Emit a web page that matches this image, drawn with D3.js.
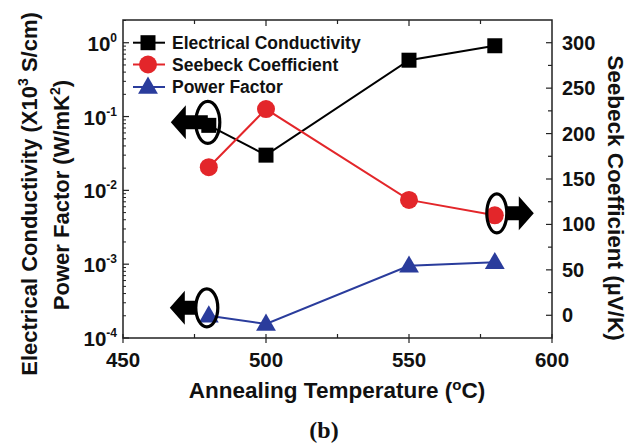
<!DOCTYPE html>
<html><head><meta charset="utf-8">
<script src="https://cdn.jsdelivr.net/npm/d3@7"></script>
<style>
html,body{margin:0;padding:0;background:#fff;}
svg text{font-family:"Liberation Sans",Arial,Helvetica,sans-serif;font-weight:bold;fill:#111;}
</style></head>
<body>
<svg id="c" width="636" height="445"></svg>
<script>
// ---- data ----
const temperatures = [480, 500, 550, 580];
const conductivity = [0.076, 0.030, 0.58, 0.91];      // x10^3 S/cm (left, log)
const seebeck = [163, 227, 127, 110];                 // µV/K (right)
const powerFactor = [2.0e-4, 1.55e-4, 9.5e-4, 1.06e-3]; // W/mK^2 (left, log)
const xTicks = [450, 500, 550, 600];
const leftTickExps = [0, -1, -2, -3, -4];
const rightTicks = [0, 50, 100, 150, 200, 250, 300];
const legendNames = ["Electrical Conductivity", "Seebeck Coefficient", "Power Factor"];

const colBlack = "#000", colRed = "#e3262a", colBlue = "#2a3c9c";

const svg = d3.select("#c");
const L = 123, R = 552, T = 20, B = 338;
const x = d3.scaleLinear().domain([450, 600]).range([L, R]);
const yL = d3.scaleLog().domain([1e-4, Math.pow(10, 0.308)]).range([B, T]);
const yR = d3.scaleLinear().domain([-25, 325]).range([B, T]);

// frame
const g = svg.append("g");
g.append("rect").attr("x", L).attr("y", T).attr("width", R - L).attr("height", B - T)
  .attr("fill", "none").attr("stroke", "#222").attr("stroke-width", 1.5);

// x ticks (bottom + top)
d3.range(450, 601, 25).forEach(v => {
  const major = v % 50 === 0;
  if (v !== 450 && v !== 600) {
    g.append("line").attr("x1", x(v)).attr("x2", x(v)).attr("y1", T).attr("y2", T + (major ? 6 : 4)).attr("stroke", "#222").attr("stroke-width", 1.2);
  }
  g.append("line").attr("x1", x(v)).attr("x2", x(v)).attr("y1", B + (major ? 5 : 0)).attr("y2", B - 4).attr("stroke", "#222").attr("stroke-width", 1.2);
});
xTicks.forEach(v => {
  svg.append("text").attr("x", x(v)).attr("y", 367).attr("text-anchor", "middle")
    .attr("font-size", 20.5).text(v);
});

// left log axis ticks
leftTickExps.forEach(e => {
  const v = Math.pow(10, e);
  g.append("line").attr("x1", L).attr("x2", L + 6).attr("y1", yL(v)).attr("y2", yL(v)).attr("stroke", "#222").attr("stroke-width", 1.2);
  for (let m = 2; m <= 9; m++) {
    const mv = m * Math.pow(10, e);
    if (mv > yL.domain()[1]) continue;
    g.append("line").attr("x1", L).attr("x2", L + 3).attr("y1", yL(mv)).attr("y2", yL(mv)).attr("stroke", "#222").attr("stroke-width", 1);
  }
  const t = svg.append("text").attr("x", 117).attr("y", yL(v) + 8).attr("text-anchor", "end").attr("font-size", 20.5);
  t.append("tspan").text("10");
  t.append("tspan").attr("dy", -9).attr("font-size", 12).text(e);
});

// right axis ticks
d3.range(-25, 326, 25).forEach(v => {
  if (v <= -25 || v >= 325) return;
  const major = v % 50 === 0;
  g.append("line").attr("x1", R).attr("x2", R - (major ? 6 : 4)).attr("y1", yR(v)).attr("y2", yR(v)).attr("stroke", "#222").attr("stroke-width", 1.2);
});
rightTicks.forEach(v => {
  svg.append("text").attr("x", 562).attr("y", yR(v) + 7).attr("font-size", 20).text(v);
});

// axis titles
const t1 = svg.append("text").attr("transform", "translate(37,194) rotate(-90)").attr("text-anchor", "middle").attr("font-size", 22);
t1.append("tspan").text("Electrical Conductivity (X10");
t1.append("tspan").attr("dy", -9).attr("font-size", 14).text("3");
t1.append("tspan").attr("dy", 9).text(" S/cm)");
const t2 = svg.append("text").attr("transform", "translate(69,195) rotate(-90)").attr("text-anchor", "middle").attr("font-size", 22);
t2.append("tspan").text("Power Factor (W/mK");
t2.append("tspan").attr("dy", -9).attr("font-size", 14).text("2");
t2.append("tspan").attr("dy", 9).text(")");
svg.append("text").attr("transform", "translate(608,198) rotate(90)").attr("text-anchor", "middle").attr("font-size", 22.5)
  .text("Seebeck Coefficient (\u00b5V/K)");
const tx = svg.append("text").attr("x", 337).attr("y", 398).attr("text-anchor", "middle").attr("font-size", 22.5);
tx.append("tspan").text("Annealing Temperature (");
tx.append("tspan").attr("dy", -8).attr("font-size", 15).text("o");
tx.append("tspan").attr("dy", 8).text("C)");
svg.append("text").attr("x", 324).attr("y", 438).attr("text-anchor", "middle").attr("font-size", 24)
  .style("font-family", "'Liberation Serif','Times New Roman',serif").text("(b)");

// annotation arrows (anchored to data points)
function arrow(cx, cy, dir, start) {
  const p = [[dir * start, -7], [dir * 22, -7], [dir * 22, -17], [dir * 37, 0], [dir * 22, 17], [dir * 22, 7], [dir * start, 7]];
  return "M" + p.map(q => (cx + q[0]) + "," + (cy + q[1])).join("L") + "Z";
}
const defs = svg.append("defs");
defs.append("filter").attr("id", "bl").append("feGaussianBlur").attr("stdDeviation", 0.7);
const ellipses = [];
function annotate(px, py, dx, dy, dir, rx, ry, start) {
  const cx = px + dx, cy = py + dy;
  ellipses.push({cx, cy, rx, ry, dir, start});
}
annotate(x(temperatures[0]), yL(conductivity[0]), -1, -3, -1, 12, 21, 0);
annotate(x(temperatures[0]), yL(powerFactor[0]), -2, -8, -1, 11, 19, 11);
annotate(x(temperatures[3]), yR(seebeck[3]), 2, -2, 1, 10, 19.5, 10);

// series
const lineGen = (ys, scale) => d3.line().x((d, i) => x(temperatures[i])).y((d, i) => scale(ys[i]));
const series = svg.append("g");
series.append("path").datum(conductivity).attr("d", lineGen(conductivity, yL)).attr("fill", "none").attr("stroke", colBlack).attr("stroke-width", 2);
series.append("path").datum(seebeck).attr("d", lineGen(seebeck, yR)).attr("fill", "none").attr("stroke", colRed).attr("stroke-width", 2);
series.append("path").datum(powerFactor).attr("d", lineGen(powerFactor, yL)).attr("fill", "none").attr("stroke", colBlue).attr("stroke-width", 2);

const sq = d3.symbol().type(d3.symbolSquare).size(225);
const ci = d3.symbol().type(d3.symbolCircle).size(Math.PI * 81);
const tr = d3.symbol().type(d3.symbolTriangle).size(170);
temperatures.forEach((t, i) => {
  series.append("path").attr("d", sq).attr("transform", `translate(${x(t)},${yL(conductivity[i])})`).attr("fill", colBlack);
  series.append("path").attr("d", ci).attr("transform", `translate(${x(t)},${yR(seebeck[i])})`).attr("fill", colRed);
  series.append("path").attr("d", tr).attr("transform", `translate(${x(t)},${yL(powerFactor[i]) + 1})`).attr("fill", colBlue);
});

// annotations on top
const ann = svg.append("g");
ellipses.forEach(e => {
  ann.append("path").attr("d", arrow(e.cx, e.cy, e.dir, e.start)).attr("fill", "#000").attr("filter", "url(#bl)");
  ann.append("ellipse").attr("cx", e.cx).attr("cy", e.cy).attr("rx", e.rx).attr("ry", e.ry)
    .attr("fill", "none").attr("stroke", "#000").attr("stroke-width", 3.2).attr("filter", "url(#bl)");
});

// legend
const legY = [42.7, 64.5, 87];
const legCols = [colBlack, colRed, colBlue];
const legSyms = [sq, ci, tr];
legendNames.forEach((n, i) => {
  svg.append("line").attr("x1", 133).attr("x2", 165).attr("y1", legY[i]).attr("y2", legY[i]).attr("stroke", legCols[i]).attr("stroke-width", 2);
  svg.append("path").attr("d", legSyms[i]).attr("transform", `translate(148,${legY[i] + (i === 2 ? 1 : 0)})`).attr("fill", legCols[i]);
  svg.append("text").attr("x", 172).attr("y", legY[i] + 6).attr("font-size", 17.5).text(n);
});
</script>
</body></html>
